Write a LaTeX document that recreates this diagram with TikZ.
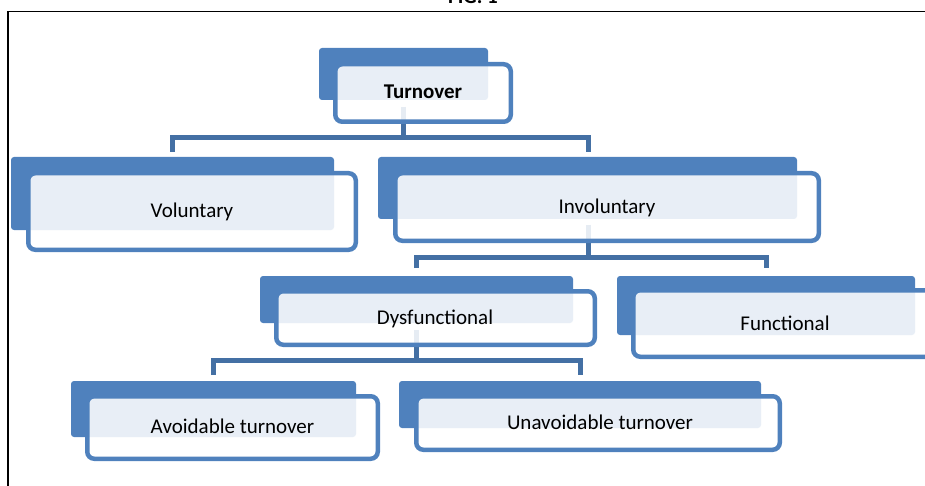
\documentclass[tikz,border=0pt]{standalone}
\usepackage{fontspec}
\setmainfont{Carlito}
\begin{document}
\begin{tikzpicture}[x=1pt,y=-1pt,
  backbox/.style={rectangle, fill=accblue, rounded corners=3pt, inner sep=0pt, outer sep=0pt},
  frontbox/.style={rectangle, draw=accblue, line width=4.5pt, fill=white, fill opacity=0.87, draw opacity=1, rounded corners=7pt, inner sep=0pt},
  conn/.style={draw=connblue, line width=5pt},
  lbl/.style={anchor=base, inner sep=0pt, font=\fontsize{21}{25}\selectfont, text=black},
  frame/.style={draw=black, line width=1.6pt}
]
\definecolor{accblue}{HTML}{4F81BD}
\definecolor{connblue}{HTML}{4470A4}
\useasboundingbox (0,0) rectangle (925,486);

% frame and title
\node[lbl, font=\fontsize{21}{25}\selectfont\bfseries] (fig) at (473,4) {FIG. 1};
\coordinate (frTL) at (8,11.5);
\coordinate (frTR) at (930,11.5);
\coordinate (frBL) at (8,490);
\draw[frame] (frBL) -- (frTL) -- (frTR);

% connector junctions
\coordinate (sT) at (403.5,107);
\coordinate (sI) at (588,225);
\coordinate (sD) at (416.5,330);
\coordinate (jT) at (403.5,138);
\coordinate (jI) at (588,257);
\coordinate (jD) at (416.5,360);
\coordinate (eV) at (172.5,152);
\coordinate (eI) at (588,152);
\coordinate (eD) at (416.5,268);
\coordinate (eF) at (766,268);
\coordinate (eA) at (213.5,375);
\coordinate (eU) at (580,375);

\draw[conn] (sT) -- (jT);
\draw[conn] (eV) -- (eV |- jT) -- (eI |- jT) -- (eI);
\draw[conn] (sI) -- (jI);
\draw[conn] (eD) -- (eD |- jI) -- (eF |- jI) -- (eF);
\draw[conn] (sD) -- (jD);
\draw[conn] (eA) -- (eA |- jD) -- (eU |- jD) -- (eU);

% Turnover
\node[backbox, minimum width=169pt, minimum height=52pt] (bT) at (403.5,74) {};
\node[frontbox, minimum width=175.5pt, minimum height=57.5pt] (fT) at (423,93) {};
\node[lbl, font=\fontsize{21}{25}\selectfont\bfseries] (tT) at (423,99) {Turnover};

% Voluntary
\node[backbox, minimum width=323pt, minimum height=73pt] (bV) at (172.5,193.5) {};
\node[frontbox, minimum width=327.5pt, minimum height=76.5pt] (fV) at (192,211.5) {};
\node[lbl] (tV) at (192,217.3) {Voluntary};

% Involuntary
\node[backbox, minimum width=419pt, minimum height=62pt] (bI) at (587.5,188) {};
\node[frontbox, minimum width=423.5pt, minimum height=67.5pt] (fI) at (607,207) {};
\node[lbl] (tI) at (607,213.3) {Involuntary};

% Dysfunctional
\node[backbox, minimum width=313pt, minimum height=47pt] (bD) at (416.5,299.5) {};
\node[frontbox, minimum width=318.5pt, minimum height=53.5pt] (fD) at (435.5,318) {};
\node[lbl] (tD) at (435,324.3) {Dysfunctional};

% Functional
\node[backbox, minimum width=298pt, minimum height=59pt] (bF) at (766,305.5) {};
\node[frontbox, minimum width=303.5pt, minimum height=66.5pt] (fF) at (785,323.5) {};
\node[lbl] (tF) at (785,330) {Functional};

% Avoidable turnover
\node[backbox, minimum width=285pt, minimum height=56pt] (bA) at (213.5,409) {};
\node[frontbox, minimum width=290.5pt, minimum height=62.5pt] (fA) at (232.5,427.5) {};
\node[lbl] (tA) at (232.5,433.3) {Avoidable turnover};

% Unavoidable turnover
\node[backbox, minimum width=362pt, minimum height=47pt] (bU) at (580,404.5) {};
\node[frontbox, minimum width=363.5pt, minimum height=53.5pt] (fU) at (598,423) {};
\node[lbl] (tU) at (600,429.3) {Unavoidable turnover};
\end{tikzpicture}
\end{document}
